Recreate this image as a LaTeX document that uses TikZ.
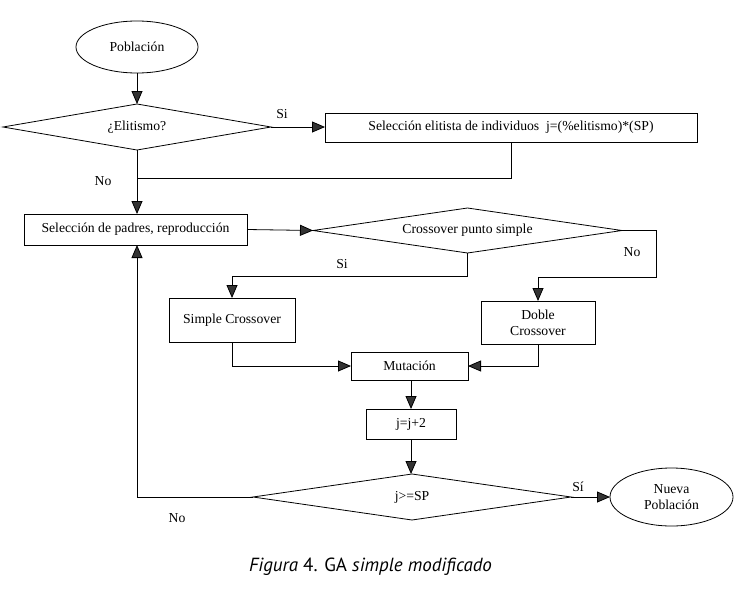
\documentclass[tikz,border=0pt]{standalone}
\usepackage{fontspec}
\setmainfont{Liberation Serif}
\newfontfamily\capfont{PT Sans}
\usetikzlibrary{shapes.geometric,arrows.meta}
\begin{document}
\begin{tikzpicture}[x=1pt,y=-1pt,
  line width=0.8pt,
  every node/.style={font=\fontsize{13.7}{16}\selectfont, inner sep=0pt, outer sep=0pt},
  boxnode/.style={draw, rectangle, align=center},
  ellnode/.style={draw, ellipse, align=center},
  decnode/.style={draw, diamond},
  arr/.style={-{Triangle[length=13pt,width=11pt,fill=black!80]}},
  lbl/.style={font=\fontsize{13.7}{16}\selectfont}
]
\useasboundingbox[fill=white] (0,0) rectangle (749,589);

% nodes
\node[ellnode, minimum width=122pt, minimum height=52pt] (pob) at (137,47) {Población};
\node[decnode, shape aspect=5.8, minimum width=268pt, minimum height=46pt] (elit) at (137,127) {¿Elitismo?};
\node[boxnode, minimum width=372pt, minimum height=29pt] (selel) at (511,127.5) {Selección elitista de individuos\ \ j=(\%elitismo)*(SP)};
\node[boxnode, minimum width=223pt, minimum height=31pt] (selp) at (135.5,229.5) {Selección de padres, reproducción};
\node[decnode, shape aspect=6.9, minimum width=309pt, minimum height=45pt] (cross) at (467.5,230.5) {Crossover punto simple};
\node[boxnode, minimum width=126pt, minimum height=44pt] (simple) at (232,320) {Simple Crossover};
\node[boxnode, minimum width=114pt, minimum height=43pt] (doble) at (538,322.5) {Doble\\Crossover};
\node[boxnode, minimum width=117pt, minimum height=28pt] (mut) at (409.5,366) {Mutación};
\node[boxnode, minimum width=90pt, minimum height=30pt] (jj) at (411,424) {j=j+2};
\node[decnode, shape aspect=6.9, minimum width=318pt, minimum height=46pt] (jsp) at (412,497) {j>=SP};
\node[ellnode, minimum width=123pt, minimum height=58pt] (nueva) at (671.5,497) {Nueva\\Población};

% helper coordinates
\coordinate (join) at (137,178);
\coordinate (cs1) at (467.5,276);
\coordinate (cs2) at (232,276);
\coordinate (cn1) at (656,230.5);
\coordinate (cn2) at (656,277);
\coordinate (cn3) at (538,277);
\coordinate (loop) at (137,497);

% connectors
\draw[arr] (pob.south) -- (pob.south |- elit.north);
\draw[arr] (elit.east) -- (selel.west |- elit.east);
\draw[arr] (elit.south) -- (elit.south |- selp.north);
\draw (selel.south) |- (join);
\draw[arr] (selp.east) -- (cross.west);
\draw[arr] (cross.south) -- (cs1) -- (cs2) -- (simple.north);
\draw[arr] (cross.east) -- (cn1) -- (cn2) -- (cn3) -- (doble.north);
\draw[arr] (simple.south) |- (mut.west);
\draw[arr] (doble.south) |- (mut.east);
\draw[arr] (mut.south -| jj.north) -- (jj.north);
\draw[arr] (jj.south) -- (jj.south |- jsp.north);
\draw[arr] (jsp.east) -- (nueva.west);
\draw[arr] (jsp.west) -- (loop) -- (loop |- selp.south);

% labels
\node[lbl] (l1) at (282,114) {Si};
\node[lbl] (l2) at (103,181) {No};
\node[lbl] (l3) at (342,264) {Si};
\node[lbl] (l4) at (632,252) {No};
\node[lbl] (l5) at (578,487) {Sí};
\node[lbl] (l6) at (177,518) {No};

% caption
\node[font=\capfont\fontsize{19}{22}\selectfont] (cap) at (370.5,567) {\textit{Figura} 4. GA \textit{simple modificado}};
\end{tikzpicture}
\end{document}
